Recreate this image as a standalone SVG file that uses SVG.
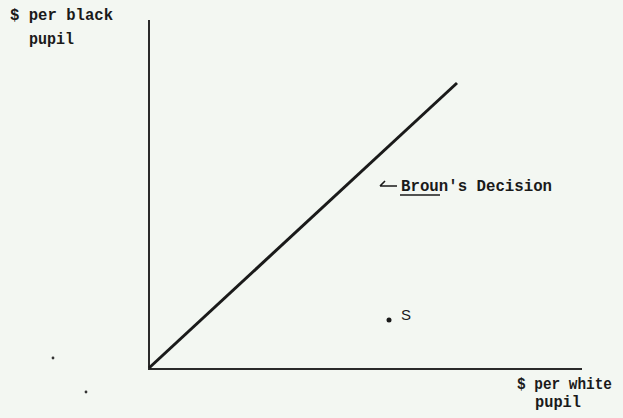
<svg xmlns="http://www.w3.org/2000/svg" width="623" height="418" viewBox="0 0 623 418">
<style>
.t{font-family:"Liberation Mono","DejaVu Sans Mono",monospace;font-weight:bold;font-size:16px;fill:#1a1a1a}
.ax{stroke:#2a2a2a;stroke-width:2;fill:none}
</style>
<rect width="623" height="418" fill="#f3f7f2"/>
<g id="connectors">
<line class="ax" x1="149" y1="20" x2="149" y2="369"/>
<line class="ax" x1="148" y1="369" x2="582" y2="369"/>
<line x1="149" y1="368" x2="457" y2="83" stroke="#1a1a1a" stroke-width="3"/>
<path d="M397 186 L380 186 M380 186 L385 181" stroke="#1a1a1a" stroke-width="1.6" fill="none"/>
<line x1="400" y1="195" x2="440" y2="195" stroke="#1a1a1a" stroke-width="1.6"/>
</g>
<g id="y-label">
<text class="t" x="10" y="20" textLength="103" lengthAdjust="spacingAndGlyphs">$ per black</text>
<text class="t" x="29" y="44" textLength="45" lengthAdjust="spacingAndGlyphs">pupil</text>
</g>
<g id="x-label">
<text class="t" x="517" y="389" textLength="95" lengthAdjust="spacingAndGlyphs">$ per white</text>
<text class="t" x="535" y="407" textLength="46" lengthAdjust="spacingAndGlyphs">pupil</text>
</g>
<g id="browns-decision">
<text class="t" x="401" y="191" textLength="151" lengthAdjust="spacingAndGlyphs">Broun's Decision</text>
</g>
<g id="point-s">
<circle cx="389" cy="320" r="2.5" fill="#1a1a1a"/>
<text x="401" y="320" font-family="Liberation Sans, Arial, sans-serif" font-size="15" fill="#1a1a1a">S</text>
</g>
<circle cx="53" cy="358" r="1.4" fill="#333"/>
<circle cx="86" cy="392" r="1.4" fill="#333"/>
</svg>
